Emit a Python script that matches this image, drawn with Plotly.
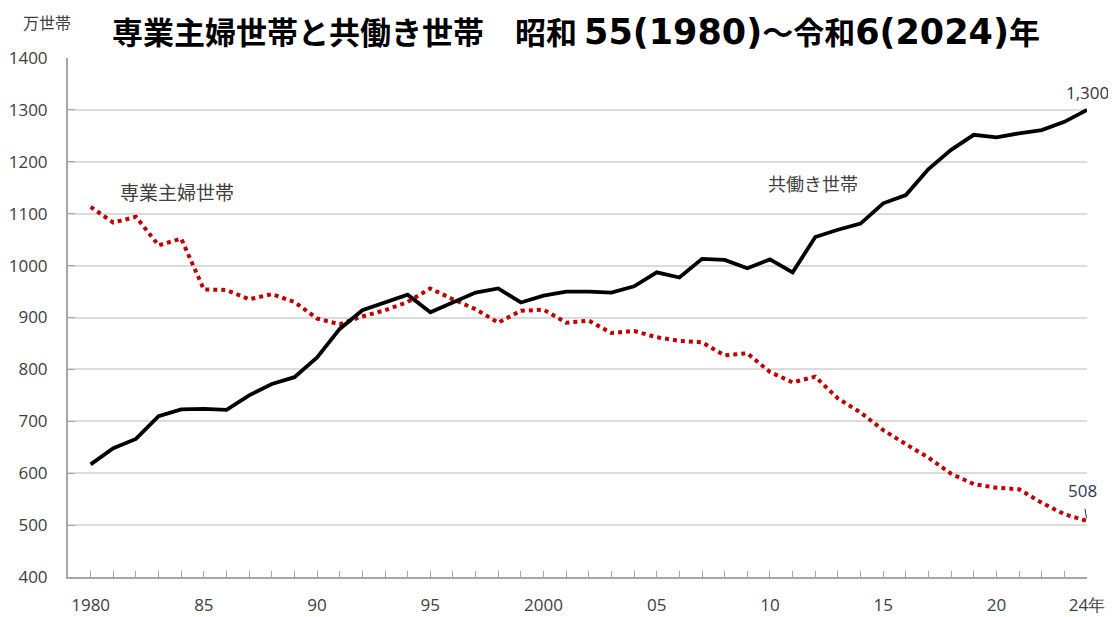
import plotly.graph_objects as go

years = list(range(1980, 2025))
dual_income = [617, 648, 666, 710, 723, 724, 722, 750, 772, 785,
               823, 878, 914, 929, 944, 910, 929, 948, 956, 929,
               942, 950, 950, 948, 960, 987, 977, 1013, 1011, 995,
               1012, 987, 1055, 1069, 1081, 1120, 1136, 1186, 1223, 1252,
               1247, 1255, 1261, 1277, 1300]
housewife = [1113, 1083, 1094, 1039, 1052, 954, 953, 935, 945, 930,
             898, 887, 902, 914, 930, 956, 935, 916, 890, 913,
             915, 890, 894, 870, 874, 862, 855, 852, 827, 831,
             795, 775, 786, 744, 717, 683, 656, 630, 599, 579,
             572, 569, 543, 521, 508]

x_tick_vals = years
x_tick_labels = {1980: "1980", 1985: "85", 1990: "90", 1995: "95", 2000: "2000",
                 2005: "05", 2010: "10", 2015: "15", 2020: "20", 2024: "24年"}
y_tick_vals = [400, 500, 600, 700, 800, 900, 1000, 1100, 1200, 1300, 1400]

NUM = "font-family:DejaVu Sans;font-size:35px"
title_text = ("専業主婦世帯と共働き世帯　昭和 "
              f"<span style='{NUM}'>55(1980)</span>～令和"
              f"<span style='{NUM}'>6(2024)</span>年")
unit_text = "万世帯"
label_housewife = "専業主婦世帯"
label_dual = "共働き世帯"

FONT = "Noto Sans CJK JP"
TXT = "#404040"

fig = go.Figure()
fig.add_trace(go.Scatter(x=years, y=housewife, mode="lines",
                         line=dict(color="#c00000", width=4, dash="dot"),
                         hoverinfo="skip", showlegend=False))
fig.add_trace(go.Scatter(x=years, y=dual_income, mode="lines",
                         line=dict(color="#000000", width=3.8),
                         hoverinfo="skip", showlegend=False))

fig.update_layout(
    width=1108, height=609,
    margin=dict(l=60, r=29, t=50, b=40, autoexpand=False),
    paper_bgcolor="white", plot_bgcolor="white",
    font=dict(family=FONT, color=TXT),
    showlegend=False,
    xaxis=dict(range=[1979, 2024], tickmode="array", tickvals=x_tick_vals,
               ticktext=[x_tick_labels.get(y, "") for y in x_tick_vals],
               ticks="inside", ticklen=6, tickcolor="#a6a6a6", tickwidth=1,
               showline=True, linecolor="#a6a6a6", linewidth=2,
               showgrid=False, zeroline=False, ticklabelstandoff=12,
               automargin=False,
               tickfont=dict(family="Open Sans", size=17, color=TXT)),
    yaxis=dict(range=[400, 1400], tickmode="array", tickvals=y_tick_vals,
               ticks="inside", ticklen=7, tickcolor="#a6a6a6", tickwidth=1,
               showline=True, linecolor="#a6a6a6", linewidth=2,
               showgrid=True, gridcolor="#dcdcdc", gridwidth=1.5,
               zeroline=False, ticklabelstandoff=15, automargin=False,
               tickfont=dict(family="Open Sans", size=17, color=TXT)),
)

fig.add_annotation(text="<b>" + title_text + "</b>", xref="paper", yref="paper",
                   x=0, y=1, yshift=28, xshift=42, showarrow=False,
                   font=dict(family=FONT, size=31, color="#000000"),
                   xanchor="left", yanchor="middle")
fig.add_annotation(text=unit_text, xref="paper", yref="paper", x=0, y=1,
                   xshift=-21, yshift=36, showarrow=False,
                   font=dict(family=FONT, size=16, color=TXT),
                   xanchor="center", yanchor="middle")
fig.add_annotation(text=label_housewife, x=1983.8, y=1142, showarrow=False,
                   font=dict(family=FONT, size=19, color=TXT))
fig.add_annotation(text=label_dual, x=2011.9, y=1159, showarrow=False,
                   font=dict(family=FONT, size=18, color=TXT))
fig.add_annotation(text=f"{dual_income[-1]:,}", x=years[-1], y=dual_income[-1],
                   yshift=17, showarrow=False,
                   font=dict(family="Open Sans", size=17, color="#333333"))
fig.add_annotation(text=f"{housewife[-1]}", x=years[-1], y=housewife[-1],
                   ax=-5, ay=-30, showarrow=True, arrowhead=0, arrowwidth=1,
                   arrowcolor="#333333", standoff=3, startstandoff=5,
                   font=dict(family="Open Sans", size=17, color="#333355"))

fig.write_html("out.html")
